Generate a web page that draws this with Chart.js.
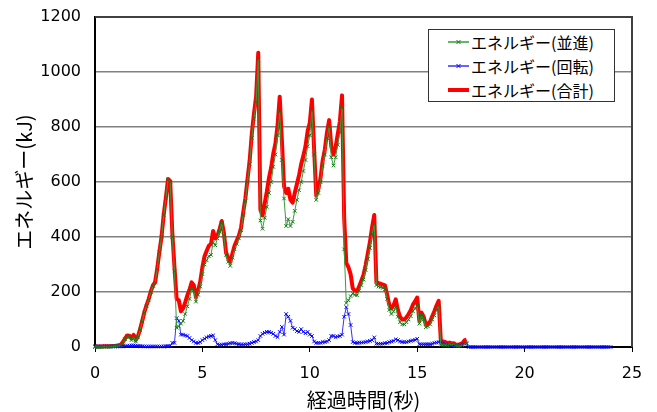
<!DOCTYPE html>
<html lang="ja">
<head>
<meta charset="utf-8">
<title>エネルギー</title>
<script src="https://cdn.jsdelivr.net/npm/chart.js@4.4.1/dist/chart.umd.min.js"></script>
<style>
  body { margin: 0; background: #fff; }
  #wrap { position: relative; width: 657px; height: 412px; }
  #legend {
    position: absolute; left: 428px; top: 29px; width: 187px; height: 73px;
    border: 1px solid #333; background: #fff; box-sizing: border-box;
    font-family: "Noto Sans CJK JP", sans-serif; font-size: 16px; color: #000;
  }
  .row { position: absolute; left: 0; height: 24px; line-height: 24px; }
  .row svg { position: absolute; left: 19px; top: 7px; }
  .row span { position: absolute; left: 42px; white-space: nowrap; }
</style>
</head>
<body>
<div id="wrap">
  <canvas id="energyChart" width="657" height="412"></canvas>
  <div id="legend"></div>
</div>
<script>
// sampling interval of the measurement (s)
const timeStep = 0.1;

const xTicks = [0, 5, 10, 15, 20, 25];
const yTicks = [0, 200, 400, 600, 800, 1000, 1200];
const seriesNames = ['エネルギー(並進)', 'エネルギー(回転)', 'エネルギー(合計)'];

// translational energy (kJ), t = 0.0 .. 17.3 s
const transEnergy = [
  0, 0, 0, 0, 1, 1, 1, 1, 2, 2,
  3, 4, 6, 15, 28, 38, 36, 25, 38, 20,
  35, 62, 92, 125, 150, 172, 200, 222, 234, 285,
  345, 400, 480, 540, 608, 600, 400, 275, 70, 75,
  85, 95, 120, 148, 175, 210, 205, 165, 190, 220,
  265, 300, 315, 330, 335, 380, 370, 395, 420, 450,
  405, 335, 310, 295, 325, 355, 375, 395, 425, 480,
  530, 600, 665, 760, 830, 890, 1045, 460, 430, 470,
  510, 560, 600, 655, 700, 770, 855, 680, 540, 440,
  465, 440, 455, 495, 535, 570, 600, 640, 680, 730,
  770, 860, 700, 535, 560, 600, 660, 700, 760, 800,
  690, 660, 690, 735, 780, 870, 355, 160, 170, 185,
  195, 190, 188, 205, 225, 245, 280, 320, 360, 410,
  445, 225, 220, 218, 215, 210, 175, 135, 120, 130,
  145, 110, 90, 82, 82, 90, 100, 112, 130, 140,
  150, 85, 115, 100, 72, 75, 82, 100, 115, 135,
  150, 8, 8, 8, 6, 10, 8, 10, 5, 4,
  4, 6, 12, 15
];

// rotational energy (kJ), t = 0.0 .. 24.0 s
const rotEnergy = [
  2, 2, 2, 2, 2, 2, 2, 2, 2, 2,
  2, 2, 2, 3, 3, 4, 5, 6, 6, 5,
  4, 3, 3, 2, 2, 2, 2, 2, 2, 2,
  2, 2, 2, 3, 3, 4, 15, 15, 105, 95,
  45, 45, 42, 40, 33, 25, 20, 15, 15, 18,
  25, 30, 35, 38, 40, 42, 25, 10, 8, 8,
  10, 10, 12, 14, 15, 14, 12, 10, 9, 9,
  10, 10, 12, 15, 18, 20, 25, 40, 48, 52,
  55, 55, 52, 48, 40, 36, 55, 73, 45, 120,
  110, 95, 70, 65, 58, 55, 65, 55, 50, 55,
  45, 40, 20, 15, 15, 15, 18, 18, 20, 25,
  40, 40, 36, 38, 40, 45, 110, 145, 120, 80,
  18, 15, 15, 16, 16, 17, 18, 20, 22, 25,
  35, 12, 12, 12, 12, 14, 15, 18, 20, 22,
  28, 25, 20, 18, 18, 18, 20, 22, 24, 26,
  30, 10, 10, 10, 10, 10, 10, 12, 15, 16,
  18, 16, 12, 10, 8, 6, 5, 4, 3, 4,
  6, 8, 12, 12, 0, 0, 0, 0, 0, 0,
  0, 0, 0, 0, 0, 0, 0, 0, 0, 0,
  0, 0, 0, 0, 0, 0, 0, 0, 0, 0,
  0, 0, 0, 0, 0, 0, 0, 0, 0, 0,
  0, 0, 0, 0, 0, 0, 0, 0, 0, 0,
  0, 0, 0, 0, 0, 0, 0, 0, 0, 0,
  0, 0, 0, 0, 0, 0, 0, 0, 0, 0,
  0
];

// total energy (kJ), t = 0.0 .. 17.3 s
const totalEnergy = [
  2, 2, 2, 2, 3, 3, 3, 3, 4, 4,
  5, 6, 8, 18, 31, 42, 41, 31, 44, 25,
  39, 65, 95, 127, 152, 174, 202, 224, 236, 287,
  347, 402, 482, 543, 611, 604, 415, 290, 175, 170,
  130, 140, 162, 188, 208, 235, 225, 180, 205, 238,
  290, 330, 350, 368, 375, 422, 395, 405, 428, 458,
  415, 345, 322, 309, 340, 369, 387, 405, 434, 489,
  540, 610, 677, 775, 848, 910, 1070, 500, 478, 522,
  565, 615, 652, 703, 740, 806, 910, 753, 585, 560,
  575, 535, 525, 560, 593, 625, 665, 695, 730, 785,
  815, 900, 720, 550, 575, 615, 678, 718, 780, 825,
  730, 700, 726, 773, 820, 915, 470, 305, 290, 265,
  213, 205, 203, 221, 241, 262, 298, 340, 382, 435,
  480, 237, 232, 230, 227, 224, 190, 153, 140, 152,
  173, 135, 110, 100, 100, 108, 120, 134, 154, 166,
  180, 95, 125, 110, 82, 85, 92, 112, 130, 151,
  168, 24, 20, 18, 14, 16, 13, 14, 8, 8,
  10, 14, 24, 27
];

function toPoints(values) {
  return values.map((v, i) => ({ x: Math.round(i * timeStep * 10) / 10, y: v }));
}

const frame = {
  id: 'frame',
  beforeDatasetsDraw(chart) {
    const { ctx, chartArea: a } = chart;
    ctx.save();
    ctx.strokeStyle = '#404040';
    ctx.lineWidth = 2;
    ctx.beginPath();
    ctx.moveTo(a.left, a.top);
    ctx.lineTo(a.right, a.top);
    ctx.lineTo(a.right, a.bottom);
    ctx.stroke();
    ctx.restore();
  }
};

const tickFont = { family: 'DejaVu Sans', size: 16 };
const titleFont = { family: '"Noto Sans CJK JP"', size: 20 };

new Chart(document.getElementById('energyChart'), {
  type: 'line',
  data: {
    datasets: [{
      label: seriesNames[0],
      data: toPoints(transEnergy),
      borderColor: '#3a9a3a',
      borderWidth: 1,
      pointStyle: 'crossRot',
      pointRadius: 2.5,
      pointBorderWidth: 1,
      pointBorderColor: '#107a10',
      clip: false
    }, {
      label: seriesNames[1],
      data: toPoints(rotEnergy),
      borderColor: '#3333ff',
      borderWidth: 1,
      pointStyle: 'crossRot',
      pointRadius: 2.5,
      pointBorderWidth: 1,
      pointBorderColor: '#0000ff',
      clip: false
    }, {
      label: seriesNames[2],
      data: toPoints(totalEnergy),
      borderColor: '#ff0000',
      borderWidth: 4,
      pointRadius: 0,
      borderJoinStyle: 'round',
      clip: false
    }]
  },
  options: {
    responsive: false,
    animation: false,
    layout: { padding: { top: 17, right: 25, left: 0, bottom: 0 } },
    plugins: {
      legend: { display: false },
      tooltip: { enabled: false }
    },
    scales: {
      x: {
        type: 'linear',
        min: 0,
        max: 25,
        afterBuildTicks: s => { s.ticks = xTicks.map(v => ({ value: v })); },
        afterFit: s => { s.height = 65; },
        grid: { drawOnChartArea: false, drawTicks: true, tickLength: 5, color: '#000' },
        border: { color: '#000', width: 2 },
        ticks: { font: tickFont, color: '#000', padding: 12, maxRotation: 0, callback: v => String(v) },
        title: { display: true, text: '経過時間(秒)', font: titleFont, color: '#000', padding: { bottom: 0 } }
      },
      y: {
        min: 0,
        max: 1200,
        afterBuildTicks: s => { s.ticks = yTicks.map(v => ({ value: v })); },
        afterFit: s => { s.width = 95; s.paddingTop = 0; s.paddingBottom = 0; },
        grid: { color: '#808080', lineWidth: 1.5, drawTicks: false },
        border: { color: '#000', width: 2 },
        ticks: { font: tickFont, color: '#000', padding: 14, callback: v => String(v) },
        title: { display: true, text: 'エネルギー(kJ)', font: titleFont, color: '#000', padding: { top: 12 } }
      }
    }
  },
  plugins: [frame]
});

// legend box inside the plot, as in the original
const legendStyles = [
  { color: '#3a9a3a', mark: '#107a10', width: 1.5 },
  { color: '#3333ff', mark: '#0000ff', width: 1.5 },
  { color: '#ff0000', mark: null, width: 4 }
];
const legend = document.getElementById('legend');
seriesNames.forEach((name, i) => {
  const st = legendStyles[i];
  const row = document.createElement('div');
  row.className = 'row';
  row.style.top = (i * 24) + 'px';
  let svg = '<svg width="22" height="10"><line x1="0" y1="5" x2="21" y2="5" stroke="' + st.color +
    '" stroke-width="' + st.width + '"/>';
  if (st.mark) {
    svg += '<path d="M8.5 3 L12.5 7 M12.5 3 L8.5 7" stroke="' + st.mark + '" stroke-width="1"/>';
  }
  svg += '</svg>';
  row.innerHTML = svg + '<span>' + name + '</span>';
  legend.appendChild(row);
});
</script>
</body>
</html>
